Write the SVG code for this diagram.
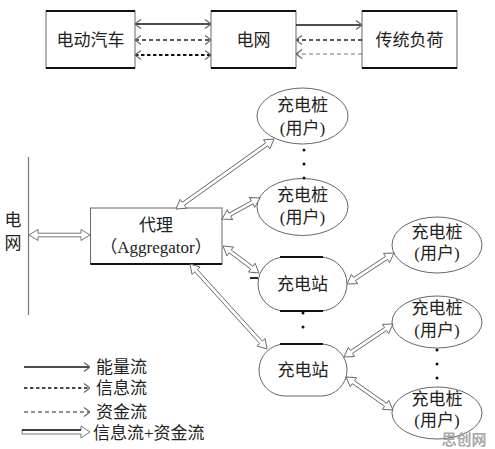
<svg xmlns="http://www.w3.org/2000/svg" width="495" height="449" viewBox="0 0 495 449">
<defs>
<style>
text{font-family:"Liberation Serif","Noto Sans CJK SC",serif;font-size:17px;fill:#222;text-anchor:middle}
.box{fill:#fff;stroke:#666;stroke-width:1}
.edge{stroke:#111;stroke-width:1.8}
.ell{fill:#fff;stroke:#666;stroke-width:1}
.dbl{fill:#fff;stroke:#666;stroke-width:0.9;stroke-linejoin:miter}
.solid{stroke:#111;stroke-width:1.6;fill:none}
.dash{stroke:#222;stroke-width:1.3;stroke-dasharray:4 3;fill:none}
.dashb{stroke:#111;stroke-width:2;stroke-dasharray:3.5 2.5;fill:none}
.dashg{stroke:#777;stroke-width:1.2;stroke-dasharray:4 3;fill:none}
.ldash{stroke:#111;stroke-width:1.6;stroke-dasharray:3.5 2.5;fill:none}
.ldashg{stroke:#222;stroke-width:1.2;stroke-dasharray:4 3;fill:none}
.dot{fill:#111}
.lt{text-anchor:start}
</style>
<marker id="ch" viewBox="0 0 10 10" refX="10" refY="5" markerWidth="10" markerHeight="10" markerUnits="userSpaceOnUse" orient="auto-start-reverse">
<path d="M4,0.5 L10,5 L4,9.5" fill="none" stroke="#666" stroke-width="1.2"/>
</marker>
</defs>
<rect width="495" height="449" fill="#fff"/>

<!-- top row -->
<g id="ev">
<rect class="box" x="46" y="11" width="89" height="57"/>
<line class="edge" x1="46" y1="11" x2="135" y2="11"/><line class="edge" x1="46" y1="68" x2="135" y2="68"/>
<text x="90.5" y="46">电动汽车</text>
</g>
<g id="grid">
<rect class="box" x="211" y="11" width="85" height="57"/>
<line class="edge" x1="211" y1="11" x2="296" y2="11"/><line class="edge" x1="211" y1="68" x2="296" y2="68"/>
<text x="253.5" y="46">电网</text>
</g>
<g id="load">
<rect class="box" x="362" y="11" width="95" height="57"/>
<line class="edge" x1="362" y1="11" x2="457" y2="11"/><line class="edge" x1="362" y1="68" x2="457" y2="68"/>
<text x="409.5" y="46">传统负荷</text>
</g>

<!-- bottom nodes -->
<g id="grid2">
<line x1="28.5" y1="157" x2="28.5" y2="315" stroke="#777" stroke-width="1.2"/>
<text x="13" y="226">电</text>
<text x="13" y="249">网</text>
</g>
<g id="aggregator">
<rect class="box" x="90.5" y="208" width="131.5" height="56"/>
<line class="edge" x1="90.5" y1="264" x2="222" y2="264"/>
<text x="156" y="231">代理</text>
<text x="156" y="253">（Aggregator）</text>
</g>
<g id="pile1">
<ellipse class="ell" cx="302.5" cy="116" rx="45.5" ry="28"/>
<text x="302.5" y="111">充电桩</text><text x="302.5" y="134">(用户)</text>
</g>
<g id="pile2">
<ellipse class="ell" cx="302.5" cy="207" rx="45.5" ry="28.5"/>
<text x="302.5" y="201">充电桩</text><text x="302.5" y="223">(用户)</text>
</g>
<g id="pile3">
<ellipse class="ell" cx="437" cy="245" rx="45" ry="28"/>
<text x="437" y="238">充电桩</text><text x="437" y="259">(用户)</text>
</g>
<g id="station1">
<rect class="box" x="258" y="257" width="89" height="54" rx="27" ry="27"/>
<line class="edge" x1="280" y1="257" x2="323" y2="257"/><line class="edge" x1="280" y1="311" x2="323" y2="311"/>
<line class="edge" x1="250" y1="278" x2="258" y2="278"/>
<text x="302.5" y="290">充电站</text>
</g>
<g id="station2">
<rect class="box" x="259" y="344" width="88" height="52" rx="26" ry="26"/>
<line class="edge" x1="280" y1="344" x2="323" y2="344"/>
<text x="303" y="376">充电站</text>
</g>
<g id="pile4">
<ellipse class="ell" cx="437" cy="322" rx="45" ry="26"/>
<text x="437" y="314">充电桩</text><text x="437" y="336">(用户)</text>
</g>
<g id="pile5">
<ellipse class="ell" cx="437" cy="413" rx="45" ry="26"/>
<text x="437" y="405">充电桩</text><text x="437" y="426">(用户)</text>
</g>
<g id="dots">
<circle class="dot" cx="304" cy="150" r="1.5"/><circle class="dot" cx="304" cy="164" r="1.5"/><circle class="dot" cx="304" cy="178" r="1.5"/>
<circle class="dot" cx="303" cy="313" r="1.5"/><circle class="dot" cx="303" cy="327" r="1.5"/>
<circle class="dot" cx="437" cy="350" r="1.5"/><circle class="dot" cx="437" cy="364" r="1.5"/><circle class="dot" cx="437" cy="378" r="1.5"/>
</g>

<!-- connectors -->
<g id="connectors">
<line class="solid" x1="135" y1="24" x2="211" y2="24" marker-start="url(#ch)" marker-end="url(#ch)"/>
<line class="dash" x1="135" y1="40" x2="211" y2="40" marker-start="url(#ch)" marker-end="url(#ch)"/>
<line class="dashb" x1="135" y1="55" x2="211" y2="55" marker-start="url(#ch)" marker-end="url(#ch)"/>
<line class="solid" x1="296" y1="25" x2="362" y2="25" marker-end="url(#ch)"/>
<line class="dash" x1="362" y1="40" x2="296" y2="40" marker-end="url(#ch)"/>
<line class="dashg" x1="362" y1="54" x2="296" y2="54" marker-end="url(#ch)"/>

<g class="dbl">
<polygon transform="translate(176,209) rotate(-35.5)" points="0,0 9,-5.5 9,-1.8 111.4,-1.8 111.4,-5.5 120.4,0 111.4,5.5 111.4,1.8 9,1.8 9,5.5"/>
<polygon transform="translate(222,219) rotate(-28.9)" points="0,0 9,-5.5 9,-1.8 34.4,-1.8 34.4,-5.5 43.4,0 34.4,5.5 34.4,1.8 9,1.8 9,5.5"/>
<polygon transform="translate(223,246) rotate(36.9)" points="0,0 9,-5.5 9,-1.8 36,-1.8 36,-5.5 45,0 36,5.5 36,1.8 9,1.8 9,5.5"/>
<polygon transform="translate(190,264) rotate(47.8)" points="0,0 9,-5.5 9,-1.8 105.7,-1.8 105.7,-5.5 114.7,0 105.7,5.5 105.7,1.8 9,1.8 9,5.5"/>
<polygon transform="translate(347,284) rotate(-33.4)" points="0,0 9,-5.5 9,-1.8 47.3,-1.8 47.3,-5.5 56.3,0 47.3,5.5 47.3,1.8 9,1.8 9,5.5"/>
<polygon transform="translate(344,357) rotate(-34)" points="0,0 9,-5.5 9,-1.8 50.1,-1.8 50.1,-5.5 59.1,0 50.1,5.5 50.1,1.8 9,1.8 9,5.5"/>
<polygon transform="translate(346,377) rotate(35.1)" points="0,0 9,-5.5 9,-1.8 48.4,-1.8 48.4,-5.5 57.4,0 48.4,5.5 48.4,1.8 9,1.8 9,5.5"/>
<polygon transform="translate(29,235)" points="0,0 9,-5.5 9,-1.8 52,-1.8 52,-5.5 61,0 52,5.5 52,1.8 9,1.8 9,5.5"/>
</g>
</g>

<!-- legend -->
<g id="legend">
<line class="solid" x1="24" y1="367" x2="90" y2="367" marker-end="url(#ch)"/>
<line class="ldash" x1="24" y1="388" x2="90" y2="388" marker-end="url(#ch)"/>
<line class="ldashg" x1="24" y1="412" x2="90" y2="412" marker-end="url(#ch)"/>
<polygon class="dbl" points="22,430 81,430 81,426 90,432 81,438 81,434 22,434"/>
<line x1="22" y1="430" x2="81" y2="430" stroke="#111" stroke-width="1.6"/>
<text class="lt" x="96" y="373">能量流</text>
<text class="lt" x="96" y="394">信息流</text>
<text class="lt" x="96" y="418">资金流</text>
<text class="lt" x="93" y="439">信息流+资金流</text>
</g>

<text x="464" y="445" style="font-family:'Noto Sans CJK SC',sans-serif;font-weight:bold;font-size:15px;fill:#9a9a9a;fill-opacity:0.85">思创网</text>
</svg>
